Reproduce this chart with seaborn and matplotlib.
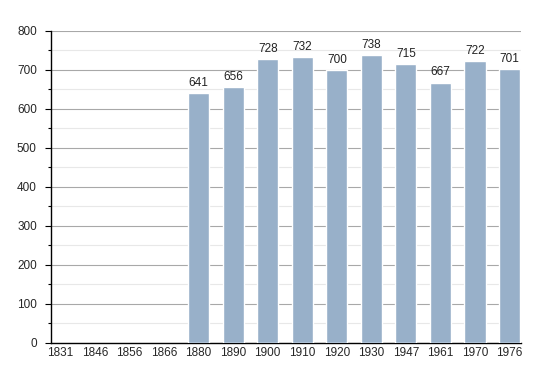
import matplotlib
matplotlib.use("Agg")
import matplotlib.pyplot as plt
import seaborn as sns
import numpy as np
import pandas as pd
from matplotlib.ticker import MultipleLocator

years = ["1831", "1846", "1856", "1866", "1880", "1890", "1900", "1910", "1920", "1930", "1947", "1961", "1970", "1976"]
population = [np.nan, np.nan, np.nan, np.nan, 641, 656, 728, 732, 700, 738, 715, 667, 722, 701]

df = pd.DataFrame({"year": years, "pop": population})

sns.set_style("white")
plt.rcParams['font.family'] = ['Liberation Sans', 'DejaVu Sans']

fig = plt.figure(figsize=(5.5, 3.73), dpi=100)
ax = fig.add_axes([0.0922, 0.0812, 0.855, 0.8365])

sns.barplot(data=df, x="year", y="pop", color="#98b0c9", width=0.61, ax=ax, zorder=3, saturation=1)

ax.set_ylim(0, 800)
ax.set_xlim(-0.28, len(years) - 1 + 0.33)
ax.yaxis.set_major_locator(MultipleLocator(100))
ax.yaxis.set_minor_locator(MultipleLocator(50))
ax.grid(axis="y", which="major", color="#a8a8a8", linewidth=0.8, zorder=0)
ax.grid(axis="y", which="minor", color="#e8e8e8", linewidth=0.8, zorder=0)
ax.set_axisbelow(True)

for s in ["top", "right"]:
    ax.spines[s].set_visible(False)
for s in ["left", "bottom"]:
    ax.spines[s].set_color("black")
    ax.spines[s].set_linewidth(1.0)

ax.tick_params(axis="y", which="both", left=True, color="black", width=0.8)
ax.tick_params(axis="y", which="major", length=4, labelsize=8.5, pad=6)
ax.tick_params(axis="y", which="minor", length=2)
ax.tick_params(axis="x", bottom=False, length=0, labelsize=8.5, pad=3)
ax.set_xlabel("")
ax.set_ylabel("")

for i, v in enumerate(population):
    if not np.isnan(v):
        ax.annotate(f"{int(v)}", (i, v), xytext=(0, 3), textcoords="offset points",
                    ha="center", va="bottom", fontsize=8.5, color="#222222")

fig.savefig("out.png", dpi=100)
